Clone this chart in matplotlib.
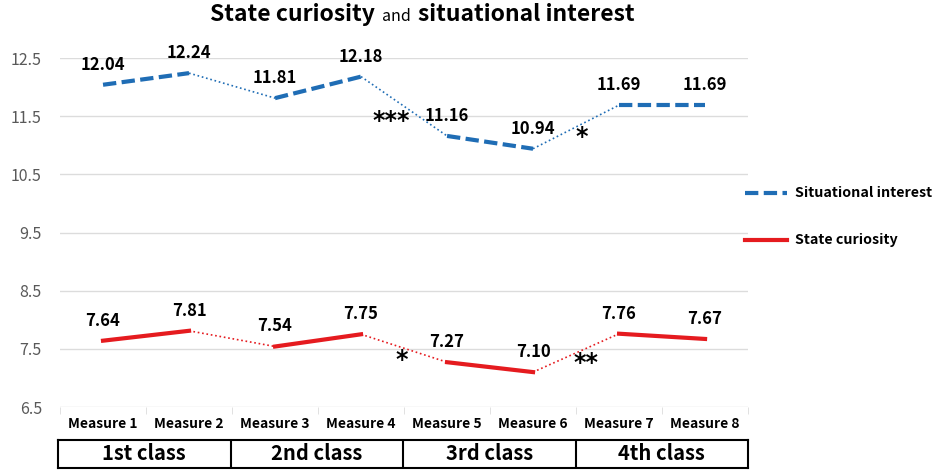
import matplotlib.pyplot as plt

plt.rcParams['font.family'] = ['Noto Sans CJK KR', 'DejaVu Sans']

measures = ['Measure 1', 'Measure 2', 'Measure 3', 'Measure 4',
            'Measure 5', 'Measure 6', 'Measure 7', 'Measure 8']
classes = ['1st class', '2nd class', '3rd class', '4th class']
interest = [12.04, 12.24, 11.81, 12.18, 11.16, 10.94, 11.69, 11.69]
curiosity = [7.64, 7.81, 7.54, 7.75, 7.27, 7.10, 7.76, 7.67]
# significance marks: (x between measures, y, text)
interest_sig = [(3.35, 11.42, '***'), (5.57, 11.15, '*')]
curiosity_sig = [(3.47, 7.30, '*'), (5.62, 7.25, '**')]

blue = '#1f6db5'
red = '#e51b1f'
dash = (0, (3.2, 1.3))

fig = plt.figure(figsize=(9.38, 4.76), dpi=100)
ax = fig.add_axes([0.064, 1 - 407 / 476, 0.7335, 349 / 476])

x = list(range(len(measures)))

for vals, col, ls in [(interest, blue, dash), (curiosity, red, '-')]:
    # solid/dashed segments within a class
    for i in range(0, len(vals), 2):
        ax.plot(x[i:i + 2], vals[i:i + 2], color=col, lw=3, linestyle=ls,
                dash_capstyle='butt', zorder=3)
    # thin dotted segments between classes
    for i in range(1, len(vals) - 1, 2):
        ax.plot(x[i:i + 2], vals[i:i + 2], color=col, lw=1.2, linestyle=':', zorder=3)
    for xi, v in zip(x, vals):
        ax.annotate(f'{v:.2f}', (xi, v), xytext=(0, 8), textcoords='offset points',
                    ha='center', va='bottom', fontsize=12, fontweight='bold')

for sx, sy, s in interest_sig + curiosity_sig:
    ax.text(sx, sy, s, fontsize=17, fontweight='bold', ha='center', va='center',
            family='DejaVu Sans')

ax.set_xlim(-0.5, 7.5)
ax.set_ylim(6.5, 12.5)
ax.set_yticks([6.5, 7.5, 8.5, 9.5, 10.5, 11.5, 12.5])
ax.set_yticklabels(['6.5', '7.5', '8.5', '9.5', '10.5', '11.5', '12.5'],
                   fontsize=11.5, color='#595959')
ax.yaxis.grid(True, color='#dcdcdc', lw=1)
ax.set_axisbelow(True)
ax.tick_params(axis='y', length=0, pad=13)
for s in ax.spines.values():
    s.set_visible(False)

ax.set_xticks(x)
ax.set_xticklabels(measures, fontsize=10, fontweight='bold')
ax.set_xticks([i - 0.5 for i in range(len(measures) + 1)], minor=True)
ax.tick_params(axis='x', which='major', length=0, pad=7)
ax.tick_params(axis='x', which='minor', length=5, color='#dcdcdc', direction='out')

# legend
leg_items = [(blue, dash, 'Situational interest', 193),
             (red, '-', 'State curiosity', 240)]
for col, ls, txt, ypix in leg_items:
    yf = 1 - ypix / 476
    fig.add_artist(plt.Line2D([745 / 938, 787 / 938], [yf, yf], color=col, lw=3,
                              linestyle=ls, dash_capstyle='butt'))
    fig.text(795 / 938, yf, txt, fontsize=10.3, fontweight='bold', va='center')

# title, built from three pieces laid side by side
parts = [('State curiosity', 16.5, 'bold'), ('and', 11.5, 'normal'),
         ('situational interest', 16.5, 'bold')]
renderer = fig.canvas.get_renderer()
gap = 7
texts = []
for s, fs, fw in parts:
    t = fig.text(0, 1 - 21 / 476, s, fontsize=fs, fontweight=fw, ha='left', va='baseline')
    texts.append(t)
widths = [t.get_window_extent(renderer).width for t in texts]
total = sum(widths) + gap * (len(widths) - 1)
xpos = 422 - total / 2
for t, w in zip(texts, widths):
    t.set_x(xpos / 938)
    xpos += w + gap

# class table
tab = fig.add_axes([58 / 938, 1 - 468 / 476, 690 / 938, 28 / 476])
tab.set_xlim(0, 4)
tab.set_ylim(0, 1)
tab.set_xticks([])
tab.set_yticks([])
for s in tab.spines.values():
    s.set_linewidth(1.5)
    s.set_color('black')
for k in range(1, 4):
    tab.axvline(k, color='black', lw=1.5)
for k, c in enumerate(classes):
    tab.text(k + 0.5, 0.5, c, ha='center', va='center', fontsize=14.5, fontweight='bold')

fig.savefig('out.png', dpi=100)
